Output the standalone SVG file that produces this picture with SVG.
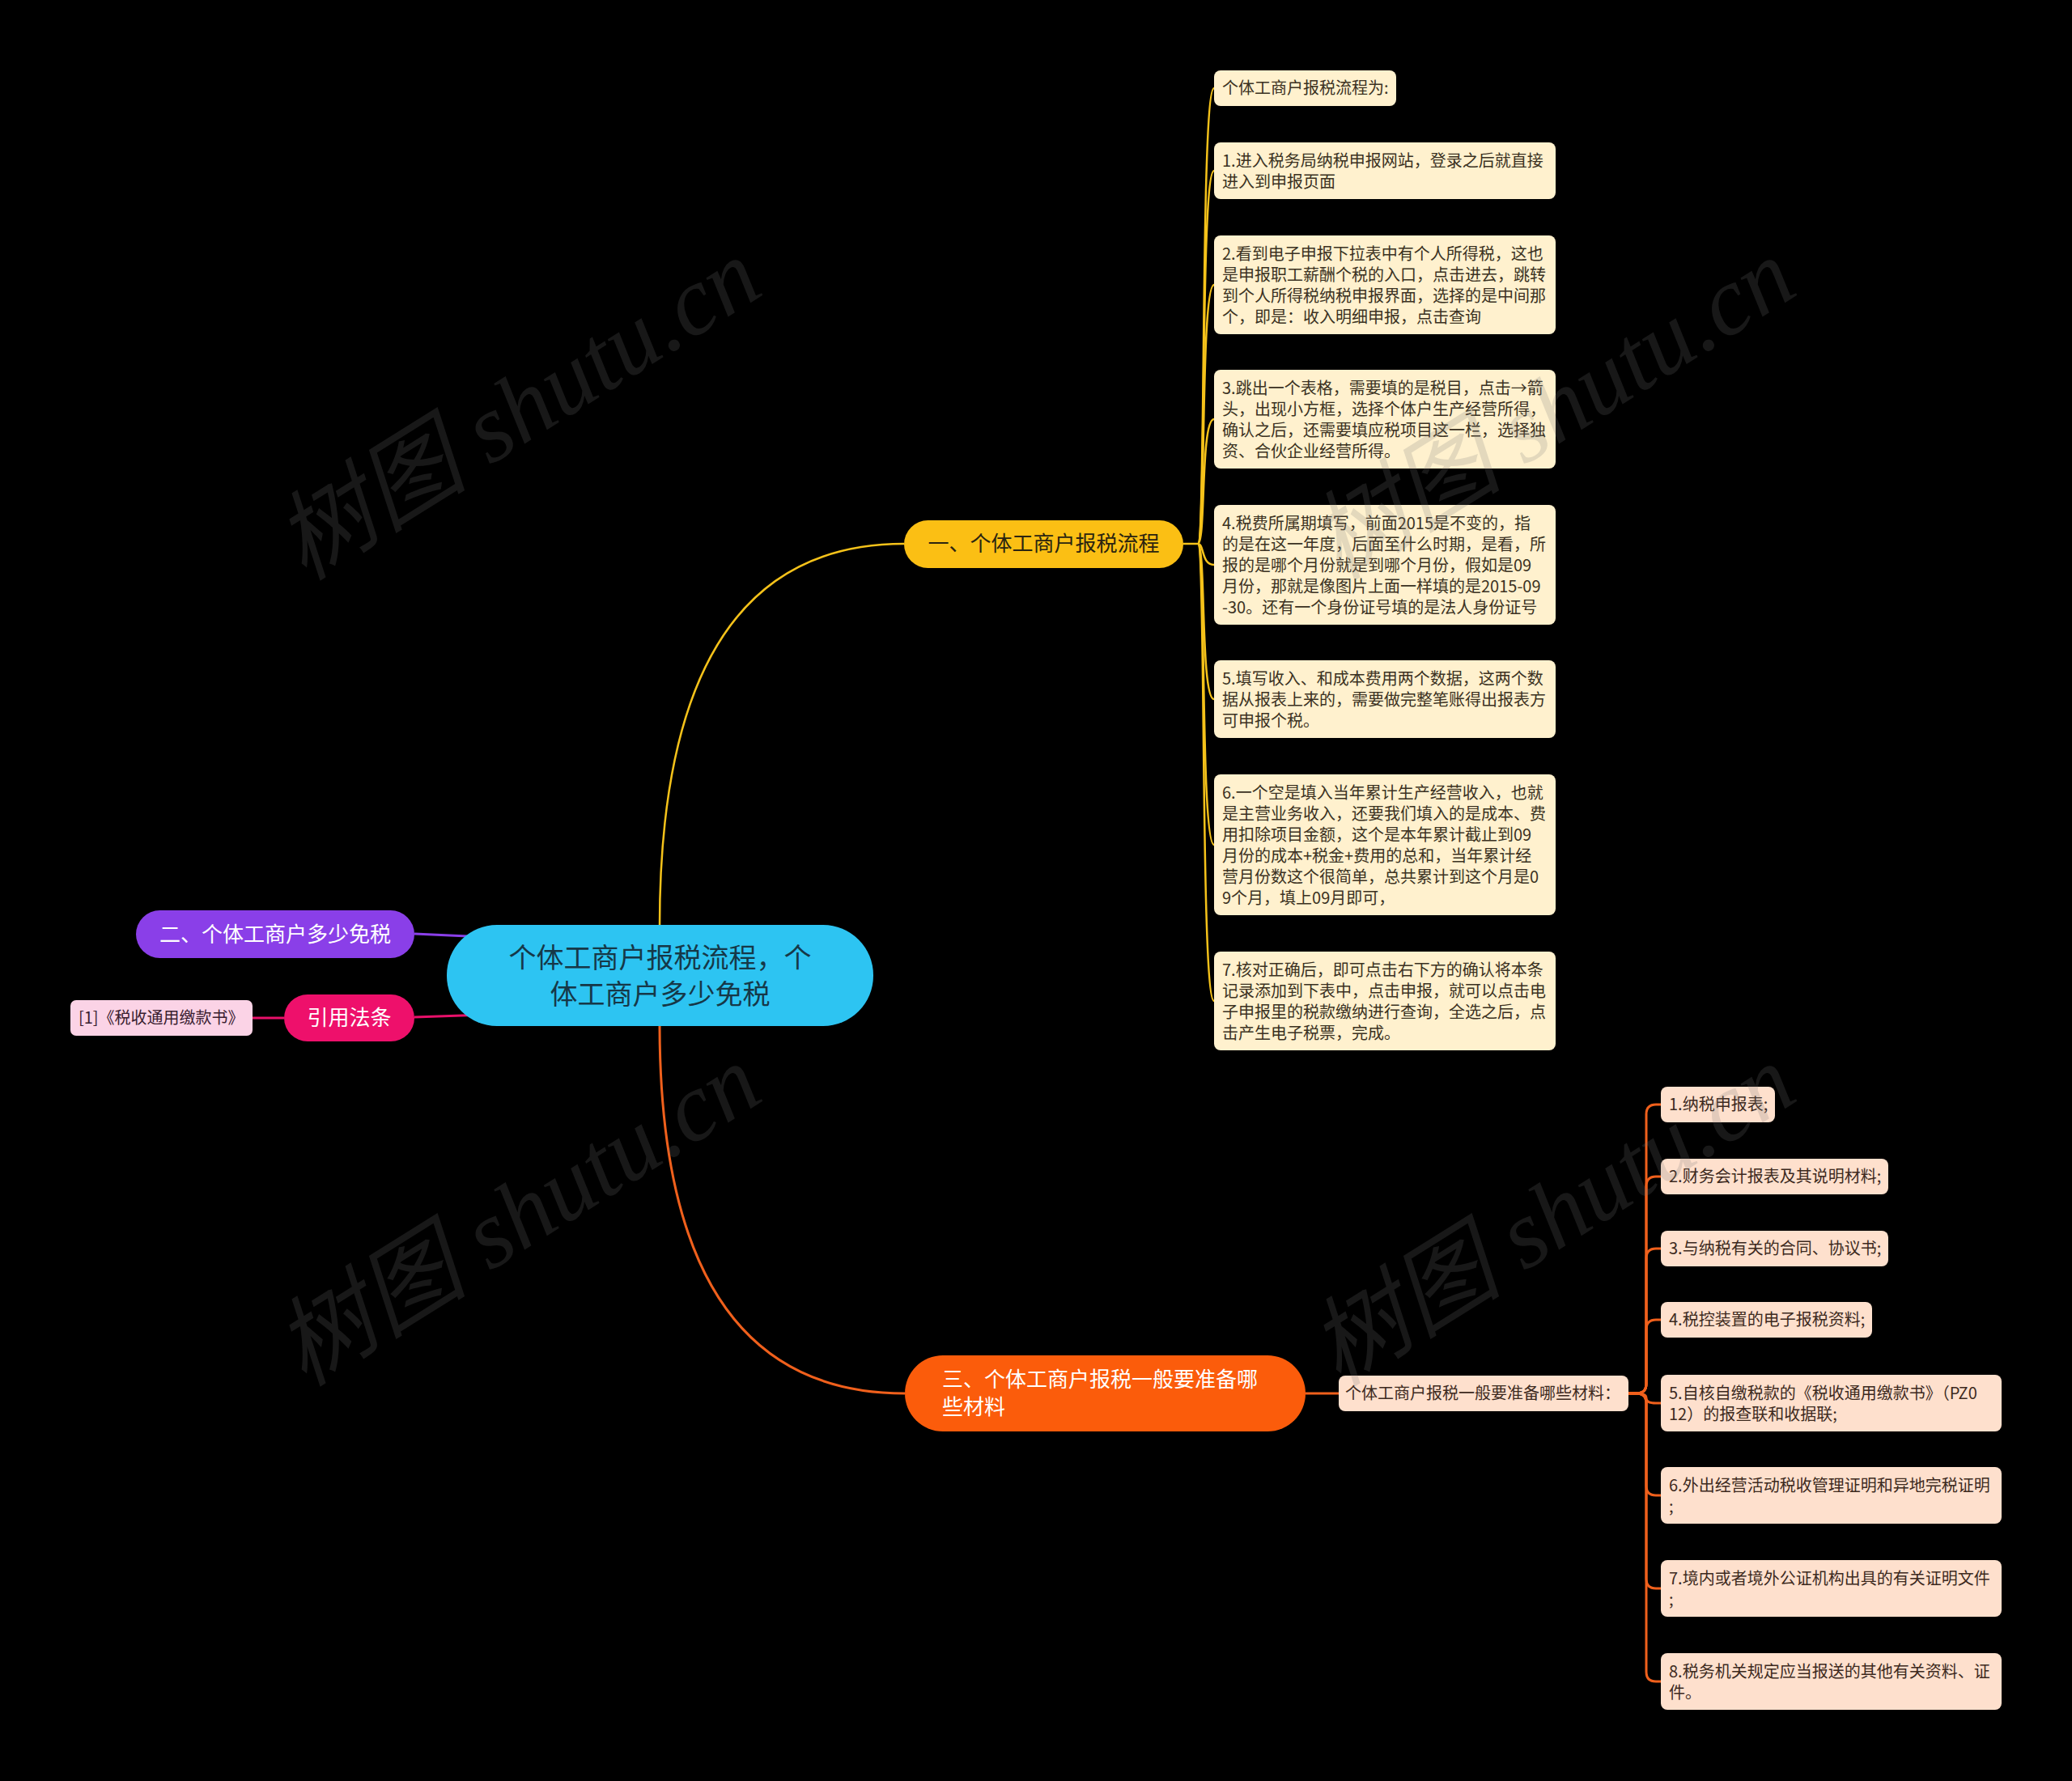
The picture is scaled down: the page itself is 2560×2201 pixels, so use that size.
<svg xmlns="http://www.w3.org/2000/svg" width="2560" height="2201" viewBox="0 0 2560 2201">
<style>
text{font-family:"Noto Sans CJK SC","Noto Sans",sans-serif}
.wm{font-family:"Liberation Serif","Noto Sans CJK SC",serif;font-size:120px;fill:#777;opacity:0.2;font-style:italic}
.yl{fill:#FFF1CE}
.ol{fill:#FEE0CD}
.lt{font-size:20px;fill:#3b3222}
.ot{font-size:20px;fill:#3d2a1e}
.cy{fill:none;stroke:#F5C21A;stroke-width:2.5}
.co{fill:none;stroke:#F0601C;stroke-width:3}
</style>
<rect width="2560" height="2201" fill="#000"/>
<g id="connectors">
<path class="cy" d="M815,1145 Q815,672 1117,672"/>
<path class="co" d="M815,1266 Q815,1722 1118,1722"/>
<path fill="none" stroke="#8A3FE8" stroke-width="3" d="M512,1154 L600,1158"/>
<path fill="none" stroke="#E8106A" stroke-width="3" d="M512,1257 L600,1254"/>
<path fill="none" stroke="#E8106A" stroke-width="3" d="M312,1258 L351,1258"/>
<path class="cy" d="M1462,672 H1480"/>
<path class="cy" d="M1480,672 C1490,672 1483,109 1500,109"/>
<path class="cy" d="M1480,672 C1490,672 1483,211 1500,211"/>
<path class="cy" d="M1480,672 C1490,672 1483,352 1500,352"/>
<path class="cy" d="M1480,672 C1490,672 1483,518 1500,518"/>
<path class="cy" d="M1480,672 C1488,672 1484,698 1500,698"/>
<path class="cy" d="M1480,672 C1490,672 1483,864 1500,864"/>
<path class="cy" d="M1480,672 C1490,672 1483,1044 1500,1044"/>
<path class="cy" d="M1480,672 C1490,672 1483,1237 1500,1237"/>
<path class="co" d="M1613,1722 H1654"/>
<path class="co" d="M2012,1722 H2022 Q2034,1722 2034,1710 V1377 Q2034,1365 2046,1365 H2052"/>
<path class="co" d="M2012,1722 H2022 Q2034,1722 2034,1710 V1466 Q2034,1454 2046,1454 H2052"/>
<path class="co" d="M2012,1722 H2022 Q2034,1722 2034,1710 V1555 Q2034,1543 2046,1543 H2052"/>
<path class="co" d="M2012,1722 H2022 Q2034,1722 2034,1710 V1643 Q2034,1631 2046,1631 H2052"/>
<path class="co" d="M2012,1722 H2022 Q2034,1722 2034,1728 Q2034,1734 2046,1734 H2052"/>
<path class="co" d="M2012,1722 H2022 Q2034,1722 2034,1734 V1836 Q2034,1848 2046,1848 H2052"/>
<path class="co" d="M2012,1722 H2022 Q2034,1722 2034,1734 V1951 Q2034,1963 2046,1963 H2052"/>
<path class="co" d="M2012,1722 H2022 Q2034,1722 2034,1734 V2066 Q2034,2078 2046,2078 H2052"/>
</g>
<g id="root">
<rect x="552" y="1143" width="527" height="125" rx="62" fill="#2DC4F2"/>
<text x="815.5" y="1196" font-size="34" fill="#163848" text-anchor="middle">个体工商户报税流程，个</text>
<text x="815.5" y="1241" font-size="34" fill="#163848" text-anchor="middle">体工商户多少免税</text>
</g>
<g id="branch1">
<rect x="1117" y="643" width="345" height="59" rx="29.5" fill="#FBBF14"/>
<text x="1289.5" y="681" font-size="26" fill="#2a2410" text-anchor="middle">一、个体工商户报税流程</text>
</g>
<g id="branch2">
<rect x="168" y="1125" width="344" height="59" rx="29.5" fill="#8A3FE8"/>
<text x="340" y="1164" font-size="26" fill="#fff" text-anchor="middle">二、个体工商户多少免税</text>
</g>
<g id="branch3">
<rect x="1118" y="1675" width="495" height="94" rx="47" fill="#FB5C0B"/>
<text x="1164" y="1714" font-size="26" fill="#fff">三、个体工商户报税一般要准备哪</text>
<text x="1164" y="1748" font-size="26" fill="#fff">些材料</text>
</g>
<g id="cite">
<rect x="351" y="1229" width="161" height="58" rx="29" fill="#EE106B"/>
<text x="431.5" y="1267" font-size="26" fill="#fff" text-anchor="middle">引用法条</text>
</g>
<g id="cite-1">
<rect x="87" y="1236" width="225" height="44" rx="7" fill="#FBD3E6"/>
<text x="97" y="1265" font-size="20" fill="#3a2030">[1]《税收通用缴款书》</text>
</g>
<g id="y0"><rect class="yl" x="1500" y="87" width="225" height="44" rx="8"/>
<text class="lt" x="1510" y="116">个体工商户报税流程为:</text></g>
<g id="y1"><rect class="yl" x="1500" y="176" width="422" height="70" rx="8"/>
<text class="lt" x="1510" y="206">1.进入税务局纳税申报网站，登录之后就直接</text>
<text class="lt" x="1510" y="232">进入到申报页面</text></g>
<g id="y2"><rect class="yl" x="1500" y="291" width="422" height="122" rx="8"/>
<text class="lt" x="1510" y="321">2.看到电子申报下拉表中有个人所得税，这也</text>
<text class="lt" x="1510" y="347">是申报职工薪酬个税的入口，点击进去，跳转</text>
<text class="lt" x="1510" y="373">到个人所得税纳税申报界面，选择的是中间那</text>
<text class="lt" x="1510" y="399">个，即是：收入明细申报，点击查询</text></g>
<g id="y3"><rect class="yl" x="1500" y="457" width="422" height="122" rx="8"/>
<text class="lt" x="1510" y="487">3.跳出一个表格，需要填的是税目，点击→箭</text>
<text class="lt" x="1510" y="513">头，出现小方框，选择个体户生产经营所得，</text>
<text class="lt" x="1510" y="539">确认之后，还需要填应税项目这一栏，选择独</text>
<text class="lt" x="1510" y="565">资、合伙企业经营所得。</text></g>
<g id="y4"><rect class="yl" x="1500" y="624" width="422" height="148" rx="8"/>
<text class="lt" x="1510" y="654">4.税费所属期填写，前面2015是不变的，指</text>
<text class="lt" x="1510" y="680">的是在这一年度，后面至什么时期，是看，所</text>
<text class="lt" x="1510" y="706">报的是哪个月份就是到哪个月份，假如是09</text>
<text class="lt" x="1510" y="732">月份，那就是像图片上面一样填的是2015-09</text>
<text class="lt" x="1510" y="758">-30。还有一个身份证号填的是法人身份证号</text></g>
<g id="y5"><rect class="yl" x="1500" y="816" width="422" height="96" rx="8"/>
<text class="lt" x="1510" y="846">5.填写收入、和成本费用两个数据，这两个数</text>
<text class="lt" x="1510" y="872">据从报表上来的，需要做完整笔账得出报表方</text>
<text class="lt" x="1510" y="898">可申报个税。</text></g>
<g id="y6"><rect class="yl" x="1500" y="957" width="422" height="174" rx="8"/>
<text class="lt" x="1510" y="987">6.一个空是填入当年累计生产经营收入，也就</text>
<text class="lt" x="1510" y="1013">是主营业务收入，还要我们填入的是成本、费</text>
<text class="lt" x="1510" y="1039">用扣除项目金额，这个是本年累计截止到09</text>
<text class="lt" x="1510" y="1065">月份的成本+税金+费用的总和，当年累计经</text>
<text class="lt" x="1510" y="1091">营月份数这个很简单，总共累计到这个月是0</text>
<text class="lt" x="1510" y="1117">9个月，填上09月即可，</text></g>
<g id="y7"><rect class="yl" x="1500" y="1176" width="422" height="122" rx="8"/>
<text class="lt" x="1510" y="1206">7.核对正确后，即可点击右下方的确认将本条</text>
<text class="lt" x="1510" y="1232">记录添加到下表中，点击申报，就可以点击电</text>
<text class="lt" x="1510" y="1258">子申报里的税款缴纳进行查询，全选之后，点</text>
<text class="lt" x="1510" y="1284">击产生电子税票，完成。</text></g>
<g id="m0"><rect class="ol" x="1654" y="1700" width="358" height="44" rx="8"/>
<text class="ot" x="1662" y="1729">个体工商户报税一般要准备哪些材料：</text></g>
<g id="o1"><rect class="ol" x="2052" y="1343" width="141" height="44" rx="8"/>
<text class="ot" x="2062" y="1372">1.纳税申报表;</text></g>
<g id="o2"><rect class="ol" x="2052" y="1432" width="281" height="44" rx="8"/>
<text class="ot" x="2062" y="1461">2.财务会计报表及其说明材料;</text></g>
<g id="o3"><rect class="ol" x="2052" y="1521" width="281" height="44" rx="8"/>
<text class="ot" x="2062" y="1550">3.与纳税有关的合同、协议书;</text></g>
<g id="o4"><rect class="ol" x="2052" y="1609" width="261" height="44" rx="8"/>
<text class="ot" x="2062" y="1638">4.税控装置的电子报税资料;</text></g>
<g id="o5"><rect class="ol" x="2052" y="1699" width="421" height="70" rx="8"/>
<text class="ot" x="2062" y="1729">5.自核自缴税款的《税收通用缴款书》（PZ0</text>
<text class="ot" x="2062" y="1755">12）的报查联和收据联;</text></g>
<g id="o6"><rect class="ol" x="2052" y="1813" width="421" height="70" rx="8"/>
<text class="ot" x="2062" y="1843">6.外出经营活动税收管理证明和异地完税证明</text>
<text class="ot" x="2062" y="1869">;</text></g>
<g id="o7"><rect class="ol" x="2052" y="1928" width="421" height="70" rx="8"/>
<text class="ot" x="2062" y="1958">7.境内或者境外公证机构出具的有关证明文件</text>
<text class="ot" x="2062" y="1984">;</text></g>
<g id="o8"><rect class="ol" x="2052" y="2043" width="421" height="70" rx="8"/>
<text class="ot" x="2062" y="2073">8.税务机关规定应当报送的其他有关资料、证</text>
<text class="ot" x="2062" y="2099">件。</text></g>
<g id="watermarks">
<text class="wm" x="645" y="545" text-anchor="middle" transform="rotate(-32 645 514)">树图 shutu.cn</text>
<text class="wm" x="1923" y="545" text-anchor="middle" transform="rotate(-32 1923 514)">树图 shutu.cn</text>
<text class="wm" x="645" y="1541" text-anchor="middle" transform="rotate(-32 645 1510)">树图 shutu.cn</text>
<text class="wm" x="1923" y="1541" text-anchor="middle" transform="rotate(-32 1923 1510)">树图 shutu.cn</text>
</g>
</svg>
